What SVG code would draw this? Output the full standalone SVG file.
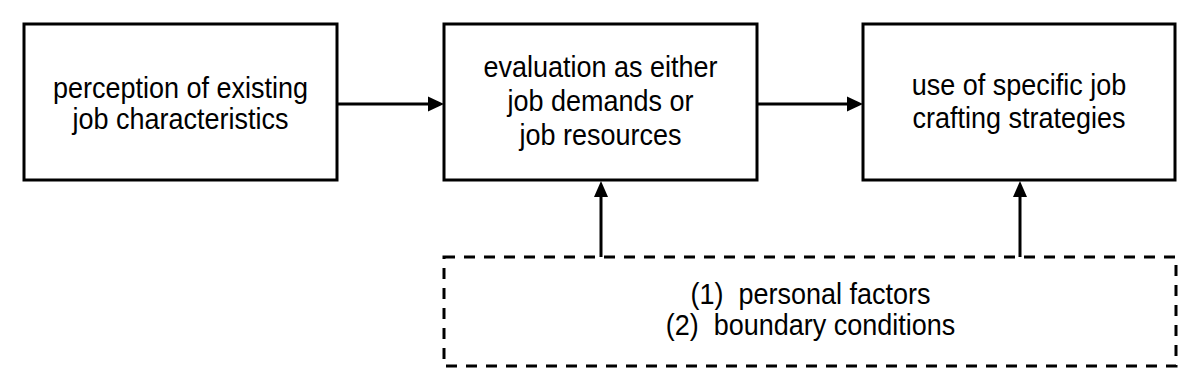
<svg xmlns="http://www.w3.org/2000/svg" width="1200" height="391" viewBox="0 0 1200 391">
<style>
.box{fill:#fff;stroke:#000;stroke-width:3}
.dash{fill:none;stroke:#000;stroke-width:3;stroke-dasharray:11 9}
.t{font-family:"Liberation Sans",Arial,sans-serif;font-size:30px;fill:#000;text-anchor:middle;white-space:pre}
.c{stroke:#000;stroke-width:3;fill:none}
.h{fill:#000}
</style>
<rect width="1200" height="391" fill="#fff"/>
<g id="n1">
<rect class="box" x="24" y="24" width="313" height="156"/>
<text class="t" transform="translate(180.5,97.5) scale(0.9,1)">perception of existing</text>
<text class="t" transform="translate(180.5,129) scale(0.9,1)">job characteristics</text>
</g>
<g id="n2">
<rect class="box" x="444" y="24" width="313" height="156"/>
<text class="t" transform="translate(600.5,77) scale(0.9,1)">evaluation as either</text>
<text class="t" transform="translate(600.5,111) scale(0.9,1)">job demands or</text>
<text class="t" transform="translate(600.5,145) scale(0.9,1)">job resources</text>
</g>
<g id="n3">
<rect class="box" x="863" y="24" width="312" height="156"/>
<text class="t" transform="translate(1019,94.5) scale(0.9,1)">use of specific job</text>
<text class="t" transform="translate(1019,128) scale(0.9,1)">crafting strategies</text>
</g>
<g id="n4">
<rect class="dash" x="444" y="257" width="732" height="109"/>
<text class="t" transform="translate(810.5,304) scale(0.9,1)">(1)  personal factors</text>
<text class="t" transform="translate(810.5,335) scale(0.9,1)">(2)  boundary conditions</text>
</g>
<g id="connectors">
<line class="c" x1="337" y1="104" x2="430" y2="104"/>
<polygon class="h" points="444,104 428,96.5 428,111.5"/>
<line class="c" x1="757" y1="104" x2="849" y2="104"/>
<polygon class="h" points="863,104 847,96.5 847,111.5"/>
<line class="c" x1="601" y1="257" x2="601" y2="194"/>
<polygon class="h" points="601,181 594,197 608,197"/>
<line class="c" x1="1020" y1="257" x2="1020" y2="194"/>
<polygon class="h" points="1020,181 1013,197 1027,197"/>
</g>
</svg>
